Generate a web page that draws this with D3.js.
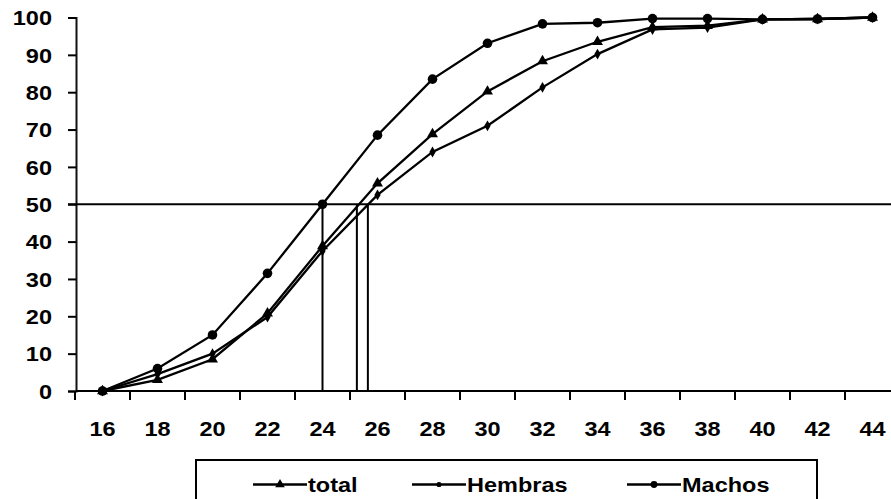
<!DOCTYPE html>
<html>
<head>
<meta charset="utf-8">
<script src="https://cdn.jsdelivr.net/npm/d3@7"></script>
<style>
  html, body { margin: 0; padding: 0; background: #fff; }
  svg { display: block; }
  text { font-family: "Liberation Sans", Arial, sans-serif; font-weight: bold; fill: #000; }
  .wide { transform-box: fill-box; transform: scaleX(1.12); }
  .wide-c { transform-origin: center; }
  .wide-r { transform-origin: right center; }
  .wide-l { transform-origin: left center; }
</style>
</head>
<body>
<svg id="chart" width="891" height="499"></svg>
<script>
// Cumulative percentage by length class
const categories = [16, 18, 20, 22, 24, 26, 28, 30, 32, 34, 36, 38, 40, 42, 44];
const total   = [0, 3, 8.5, 20.8, 38.8, 55.6, 68.8, 80.2, 88.3, 93.5, 97.4, 97.8, 99.5, 99.6, 100];
const hembras = [0, 4.5, 10, 19.8, 37.5, 52.5, 64, 71, 81.3, 90.2, 96.8, 97.3, 99.5, 99.6, 100];
const machos  = [0, 6, 15, 31.5, 50, 68.5, 83.5, 93.1, 98.3, 98.6, 99.7, 99.7, 99.5, 99.6, 100];
const yTicks  = [0, 10, 20, 30, 40, 50, 60, 70, 80, 90, 100];
// Length at 50 % (reference lines)
const l50Names  = ["Machos", "total", "Hembras"];
const l50Values = [24.0, 25.25, 25.65];
const refLevel  = 50;
const legendNames = ["total", "Hembras", "Machos"];

const svg = d3.select("#chart");

const x = d3.scaleBand().domain(categories).range([75, 900]).paddingInner(0).paddingOuter(0);
const bw = x.bandwidth();
const cx = c => x(c) + bw / 2;
// Continuous mapping over the same category centres
const xLin = d3.scaleLinear()
  .domain([categories[0], categories[categories.length - 1]])
  .range([cx(categories[0]), cx(categories[categories.length - 1])]);
const y = d3.scaleLinear().domain([0, 100]).range([391, 17.5]);

// Y axis
const yAxis = svg.append("g")
  .attr("transform", "translate(76,0)")
  .call(d3.axisLeft(y).tickValues(yTicks).tickSize(8).tickPadding(16));
yAxis.select(".domain").attr("stroke", "#111").attr("stroke-width", 2);
yAxis.selectAll(".tick line").attr("stroke", "#000").attr("stroke-width", 2);
yAxis.selectAll(".tick text")
  .attr("font-size", 21).attr("font-family", null)
  .attr("dy", "0.34em")
  .attr("class", "wide wide-r");

// X axis: labels centred in each category, ticks on category boundaries
const xAxis = svg.append("g")
  .attr("transform", "translate(0,391)")
  .call(d3.axisBottom(x).tickSize(0).tickPadding(30));
xAxis.select(".domain").remove();
xAxis.selectAll(".tick text")
  .attr("font-size", 21).attr("font-family", null)
  .attr("class", "wide wide-c");

svg.append("line")
  .attr("x1", 76).attr("x2", 900)
  .attr("y1", y(0)).attr("y2", y(0))
  .attr("stroke", "#000").attr("stroke-width", 2);

svg.append("g").selectAll("line")
  .data(categories.concat([null]))
  .join("line")
  .attr("x1", (d, i) => i < categories.length ? x(d) : x(categories[categories.length - 1]) + bw)
  .attr("x2", (d, i) => i < categories.length ? x(d) : x(categories[categories.length - 1]) + bw)
  .attr("y1", y(0)).attr("y2", y(0) + 9)
  .attr("stroke", "#000").attr("stroke-width", 2);

// Reference line at 50 %
svg.append("line")
  .attr("x1", 68).attr("x2", 900)
  .attr("y1", y(refLevel)).attr("y2", y(refLevel))
  .attr("stroke", "#000").attr("stroke-width", 2);

svg.append("g").selectAll("line")
  .data(l50Values)
  .join("line")
  .attr("x1", d => xLin(d)).attr("x2", d => xLin(d))
  .attr("y1", y(0)).attr("y2", y(refLevel))
  .attr("stroke", "#000").attr("stroke-width", 2);

// Series
const series = [
  { name: "total",   values: total,   marker: "triangle" },
  { name: "Hembras", values: hembras, marker: "small" },
  { name: "Machos",  values: machos,  marker: "circle" }
];

const line = d3.line().x(d => cx(d.c)).y(d => y(d.v));

function drawMarker(g, type, px, py) {
  if (type === "triangle") {
    g.append("path")
      .attr("d", d3.symbol(d3.symbolTriangle, 52)())
      .attr("transform", `translate(${px},${py})`)
      .attr("fill", "#000");
  } else if (type === "small") {
    g.append("path")
      .attr("d", d3.symbol(d3.symbolDiamond, 34)())
      .attr("transform", `translate(${px},${py})`)
      .attr("fill", "#000");
  } else {
    g.append("circle").attr("cx", px).attr("cy", py).attr("r", 4.8).attr("fill", "#000");
  }
}

series.forEach(s => {
  const pts = categories.map((c, i) => ({ c, v: s.values[i] }));
  const g = svg.append("g");
  g.append("path")
    .datum(pts)
    .attr("d", line)
    .attr("fill", "none")
    .attr("stroke", "#000")
    .attr("stroke-width", 2.3);
  pts.forEach(p => drawMarker(g, s.marker, cx(p.c), y(p.v)));
});

// Legend
const legend = svg.append("g");
legend.append("rect")
  .attr("x", 196).attr("y", 460)
  .attr("width", 621).attr("height", 60)
  .attr("fill", "#fff").attr("stroke", "#000").attr("stroke-width", 2);

const legendX = [253, 412, 627];
const markerOf = { total: "triangle", Hembras: "small", Machos: "circle" };
legendNames.forEach((name, i) => {
  const lx = legendX[i];
  const ly = 484.5;
  legend.append("line")
    .attr("x1", lx).attr("x2", lx + 54)
    .attr("y1", ly).attr("y2", ly)
    .attr("stroke", "#000").attr("stroke-width", 2.5);
  if (markerOf[name] === "triangle") {
    legend.append("path").attr("d", d3.symbol(d3.symbolTriangle, 40)())
      .attr("transform", `translate(${lx + 27},${ly})`).attr("fill", "#000");
  } else if (markerOf[name] === "small") {
    legend.append("circle").attr("cx", lx + 27).attr("cy", ly).attr("r", 2.6).attr("fill", "#000");
  } else {
    legend.append("circle").attr("cx", lx + 27).attr("cy", ly).attr("r", 3.4).attr("fill", "#000");
  }
  legend.append("text")
    .attr("x", lx + 55).attr("y", ly + 8)
    .attr("font-size", 21)
    .attr("class", "wide wide-l")
    .text(name);
});
</script>
</body>
</html>
